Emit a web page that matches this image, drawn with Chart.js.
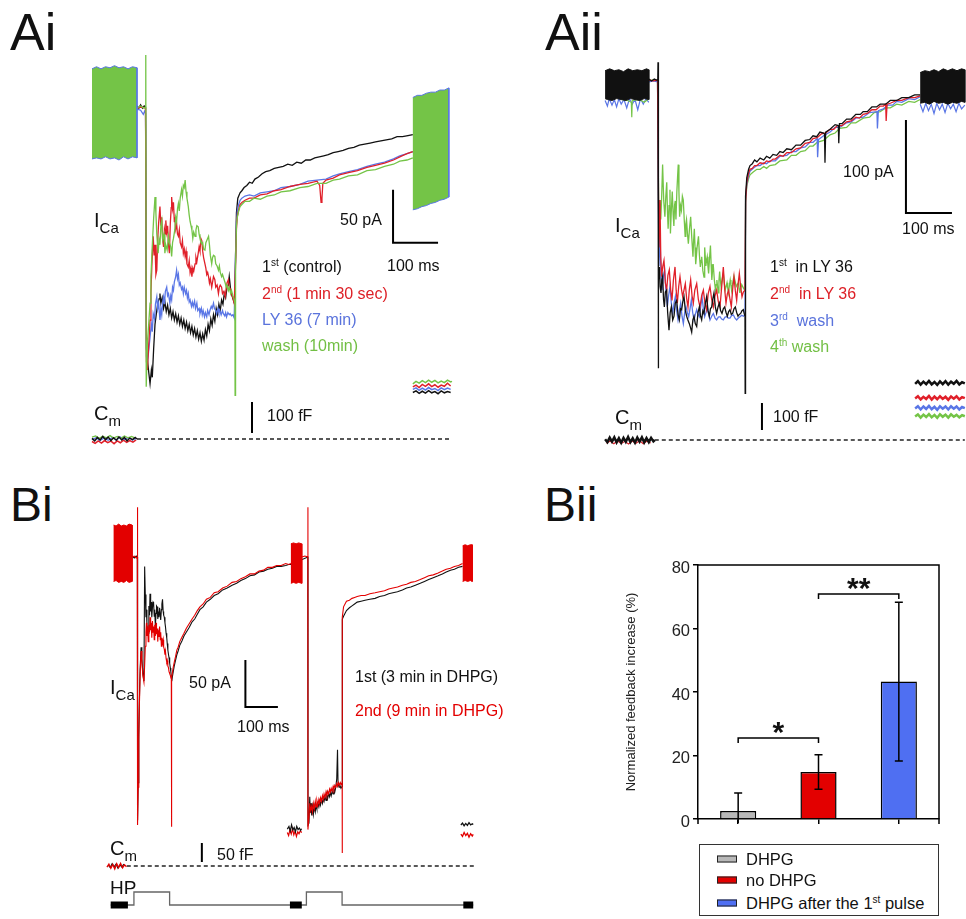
<!DOCTYPE html>
<html><head><meta charset="utf-8">
<script src="https://cdn.jsdelivr.net/npm/chart.js@4.4.1/dist/chart.umd.min.js"></script>
<style>
html,body{margin:0;padding:0;background:#fff;}
body{width:966px;height:919px;position:relative;overflow:hidden;font-family:"Liberation Sans",Arial,sans-serif;color:#111;}
canvas{position:absolute;}
.lbl{position:absolute;white-space:nowrap;line-height:1;transform:translateY(-50%);font-size:16px;}
.big{position:absolute;line-height:1;white-space:nowrap;}
.lbl sup{font-size:10px;vertical-align:6px;}
.sym{font-size:20px;}
.sym sub{font-size:15px;vertical-align:-6px;}
.leg{position:absolute;left:699px;top:844px;width:238px;height:70px;border:1.5px solid #333;}
.legrow{position:absolute;left:46px;font-size:16.5px;line-height:1;transform:translateY(-50%);white-space:nowrap;}
.legrow sup{font-size:10px;vertical-align:6px;}
.sw{position:absolute;left:17px;width:18px;height:5px;border:1px solid #222;transform:translateY(-50%);}
</style></head>
<body>
<script>
// ================= DATA =================
// Time in ms (0 = onset of the depolarising pulse), current in pA (0 = holding level), Cm in fF.

// ---- Ai : ICa sweeps ----
const aiControl = [[-20,1],[-16,-1],[-12,2],[-8,-1],[-4,1],[-1,0],[1,-228],[3,-238],[6,-250],[9,-261],[12,-248],[14,-255],[17,-228],[20,-205],[23,-195],[26,-186],[29,-181],[31,-176],[33,-185],[36,-180],[39,-190],[42,-184],[45,-193],[48,-187],[51,-196],[54,-190],[57,-199],[60,-193],[63,-201],[66,-195],[69,-203],[72,-197],[75,-205],[78,-199],[81,-207],[84,-201],[87,-209],[90,-203],[93,-211],[96,-205],[99,-213],[102,-207],[105,-215],[108,-209],[111,-217],[114,-211],[117,-219],[120,-213],[123,-221],[126,-214],[129,-220],[132,-210],[135,-216],[138,-205],[141,-211],[144,-200],[147,-206],[150,-196],[153,-202],[156,-190],[159,-196],[162,-186],[165,-192],[168,-182],[171,-186],[174,-176],[177,-180],[180,-170],[183,-168],[185,-160],[188,-172],[191,-178],[194,-182],[197,-186],[199,-140],[201,-100],[204,-86],[209,-81],[213,-79],[218,-76],[224,-74],[230,-71],[236,-72],[242,-68],[250,-66],[258,-63],[266,-61],[275,-60],[285,-58],[295,-57],[305,-56],[315,-54],[325,-55],[335,-52],[345,-53],[355,-50],[365,-50],[375,-48],[385,-47],[395,-46],[405,-45],[416,-43],[427,-42],[438,-41],[450,-39],[462,-38],[474,-36],[486,-35],[498,-34],[510,-33],[522,-32],[534,-31],[546,-30],[558,-28],[570,-28],[582,-27],[593,-26]];
const aiSecond = [[-20,-1],[-10,0],[-1,-1],[1,-240],[3,-248],[6,-225],[9,-201],[11,-175],[13,-150],[16,-122],[18,-140],[20,-130],[22,-158],[24,-154],[26,-125],[28,-110],[31,-94],[33,-112],[35,-104],[37,-125],[39,-132],[41,-115],[43,-120],[44,-107],[46,-118],[48,-112],[50,-130],[52,-138],[54,-110],[56,-95],[57,-85],[59,-96],[61,-90],[63,-108],[64,-104],[66,-115],[68,-110],[70,-120],[72,-122],[74,-116],[76,-128],[79,-132],[81,-126],[83,-138],[85,-134],[87,-141],[89,-136],[91,-148],[94,-151],[96,-145],[98,-156],[100,-152],[102,-160],[104,-152],[106,-155],[109,-148],[111,-142],[113,-146],[116,-138],[118,-132],[120,-136],[122,-124],[124,-126],[126,-136],[128,-142],[131,-148],[133,-152],[135,-158],[137,-156],[139,-160],[141,-166],[143,-162],[146,-170],[148,-165],[150,-160],[153,-163],[155,-170],[158,-168],[161,-176],[163,-170],[165,-168],[168,-170],[170,-176],[173,-174],[176,-179],[178,-172],[180,-166],[183,-163],[185,-170],[188,-172],[190,-176],[193,-180],[196,-185],[199,-150],[201,-115],[203,-103],[206,-97],[209,-92],[213,-90],[220,-88],[230,-86],[240,-86],[254,-83],[269,-82],[285,-79],[300,-78],[320,-75],[342,-73],[360,-72],[380,-70],[386,-74],[389,-90],[391,-86],[393,-72],[400,-69],[416,-67],[430,-64],[450,-62],[470,-60],[491,-57],[510,-55],[530,-53],[550,-50],[564,-47],[580,-44],[593,-42]];
const aiLY36 = [[-20,-2],[-12,-3],[-6,-7],[-3,-4],[-1,-6],[1,-235],[3,-242],[6,-230],[9,-217],[12,-205],[14,-212],[16,-195],[19,-200],[21,-186],[24,-179],[26,-190],[28,-185],[31,-201],[33,-190],[35,-196],[37,-184],[39,-179],[41,-186],[43,-174],[46,-170],[48,-178],[50,-176],[53,-185],[55,-178],[57,-182],[59,-170],[61,-173],[63,-165],[66,-160],[68,-154],[70,-162],[72,-158],[74,-168],[76,-166],[79,-172],[81,-170],[83,-176],[85,-170],[88,-176],[90,-173],[92,-180],[94,-176],[96,-184],[98,-182],[101,-188],[103,-184],[105,-188],[108,-183],[110,-190],[113,-185],[115,-192],[118,-190],[120,-195],[123,-190],[125,-196],[127,-192],[130,-198],[132,-194],[135,-198],[137,-192],[140,-196],[142,-192],[145,-188],[147,-190],[150,-185],[152,-190],[155,-192],[157,-195],[160,-190],[162,-194],[164,-192],[167,-196],[170,-192],[172,-195],[175,-197],[177,-194],[179,-198],[182,-194],[185,-196],[187,-195],[190,-197],[193,-196],[196,-199],[199,-140],[201,-108],[203,-98],[206,-92],[209,-88],[213,-86],[220,-84],[230,-83],[240,-84],[254,-81],[269,-80],[285,-79],[300,-76],[320,-75],[342,-73],[360,-70],[380,-69],[400,-68],[416,-65],[430,-63],[450,-61],[470,-59],[491,-56],[510,-54],[530,-52],[550,-49],[564,-46],[580,-44],[593,-42]];
const aiWash = [[-20,-1],[-12,1],[-5,-1],[-1,0],[-0.5,49],[0.5,-264],[3,-223],[6,-205],[9,-185],[11,-160],[13,-140],[15,-122],[17,-105],[20,-85],[22,-100],[24,-120],[27,-138],[29,-125],[31,-130],[33,-112],[35,-107],[37,-125],[40,-120],[42,-138],[44,-130],[47,-135],[50,-122],[52,-128],[55,-132],[57,-141],[59,-128],[61,-124],[64,-116],[66,-104],[68,-108],[70,-96],[72,-91],[74,-98],[76,-86],[79,-78],[81,-84],[83,-74],[85,-76],[87,-69],[89,-80],[91,-86],[94,-94],[96,-102],[98,-108],[100,-112],[102,-116],[104,-124],[106,-118],[109,-122],[111,-116],[113,-112],[116,-113],[118,-120],[120,-124],[122,-126],[124,-129],[126,-128],[128,-134],[131,-135],[133,-128],[136,-125],[139,-122],[141,-130],[143,-140],[146,-148],[148,-142],[150,-140],[153,-141],[155,-148],[158,-150],[161,-154],[163,-150],[165,-156],[168,-160],[170,-158],[173,-162],[176,-166],[178,-170],[180,-168],[183,-173],[185,-170],[188,-176],[190,-173],[193,-178],[196,-182],[197.5,-185],[198,-272],[199,-150],[201,-112],[203,-104],[206,-98],[209,-94],[213,-92],[220,-89],[230,-89],[240,-86],[254,-87],[269,-84],[285,-83],[300,-80],[320,-79],[342,-76],[360,-75],[380,-72],[400,-72],[416,-69],[430,-68],[450,-65],[470,-64],[491,-60],[510,-59],[530,-56],[550,-54],[564,-51],[580,-50],[593,-48]];
// stimulation (sine) epochs, envelope of the current
const aiStimPre = [[-120,36],[-110,38],[-100,36],[-90,38],[-80,37],[-70,39],[-60,37],[-50,38],[-40,36],[-30,38],[-20,37],[-20,-48],[-30,-47],[-40,-49],[-50,-47],[-60,-50],[-70,-48],[-80,-49],[-90,-47],[-100,-49],[-110,-48],[-120,-49]];
const aiStimPost = [[593,9],[603,11],[613,11],[623,13],[633,14],[643,14],[653,16],[663,16],[673,18],[673,-85],[663,-87],[653,-88],[643,-90],[633,-91],[623,-93],[613,-94],[603,-96],[593,-97]];
// Cm (fF)
const aiCmPreBlack = [[-120,2],[-114,-6],[-108,5],[-102,-3],[-96,8],[-90,-2],[-84,6],[-78,-5],[-72,4],[-66,-4],[-60,7],[-54,-3],[-48,5],[-42,-6],[-36,3],[-30,-2],[-24,5],[-20,0]];
const aiCmPreRed = [[-120,-8],[-113,-14],[-106,-6],[-99,-13],[-92,-5],[-85,-12],[-78,-7],[-71,-15],[-64,-6],[-57,-12],[-50,-4],[-43,-11],[-36,-5],[-29,-10],[-22,-3]];
const aiCmPreGreen = [[-120,6],[-112,10],[-104,2],[-96,9],[-88,4],[-80,11],[-72,3],[-64,8],[-56,2],[-48,10],[-40,4],[-32,8],[-24,3]];
const aiCmPreBlue = [[-120,-2],[-111,4],[-102,-5],[-93,3],[-84,-4],[-75,5],[-66,-3],[-57,6],[-48,-2],[-39,5],[-30,-3],[-22,2]];
const aiCmPostGreen = [[593,178],[600,186],[607,180],[614,188],[621,182],[628,190],[635,183],[642,189],[649,181],[656,187],[663,182],[670,190],[677,184],[680,186]];
const aiCmPostRed = [[593,168],[600,174],[607,166],[614,176],[621,170],[628,178],[635,169],[642,175],[649,167],[656,174],[663,170],[670,180],[677,171]];
const aiCmPostBlue = [[593,160],[600,165],[607,157],[614,164],[621,158],[628,166],[635,159],[642,163],[649,156],[656,165],[663,159],[670,164],[677,160]];
const aiCmPostBlack = [[593,150],[600,155],[607,147],[614,154],[621,148],[628,156],[635,149],[642,153],[649,146],[656,155],[663,149],[670,153],[677,150]];

// ---- Aii : ICa sweeps in LY 36 and wash ----
const aiiFirst = [[-20,1],[-14,-1],[-8,1],[-3,0],[-0.5,0],[0,19],[0.4,-310],[1.5,-215],[2.9,-201],[4.6,-222],[6.5,-229],[8.3,-215],[10.1,-211],[12,-236],[13.8,-244],[16,-228],[18.8,-226],[21,-250],[23.9,-269],[26.5,-250],[29,-244],[32,-258],[34.8,-254],[37.5,-240],[40.6,-237],[43.5,-252],[46.4,-258],[49,-246],[51.4,-247],[54,-238],[56.5,-233],[59.5,-248],[62.3,-254],[65,-258],[68.1,-262],[70.5,-266],[73.2,-271],[75.8,-258],[78.3,-254],[81,-262],[84.1,-265],[87,-250],[89.9,-244],[92.5,-254],[94.9,-258],[97.5,-248],[100,-251],[103,-240],[105.8,-233],[108.7,-248],[111.6,-254],[114,-246],[116.7,-244],[119,-236],[121.7,-229],[124.6,-244],[127.5,-251],[130.5,-244],[133.3,-240],[136,-248],[139.1,-251],[142,-246],[144.9,-244],[148,-250],[150.7,-254],[153.6,-249],[156.5,-247],[159.4,-252],[162.3,-251],[165.2,-246],[168.1,-244],[171,-250],[173.9,-254],[176.8,-252],[179.7,-251],[182.6,-248],[185.5,-247],[187.3,-251],[189.1,-254],[189.5,-337],[190.3,-125],[193,-105],[197,-96],[200,-92],[205,-90],[210,-86],[215,-88],[222,-84],[230,-86],[236,-82],[243,-84],[250,-80],[258,-81],[265,-77],[272,-78],[280,-74],[290,-75],[300,-70],[310,-70],[320,-65],[330,-64],[337,-60],[345,-61],[352,-56],[360,-57],[362,-58],[363,-89],[364.5,-56],[374,-53],[385,-48],[392,-49],[393,-68],[394.5,-47],[400,-47],[410,-42],[420,-42],[430,-37],[440,-37],[446,-34],[455,-34],[465,-29],[475,-29],[483,-26],[495,-26],[505,-22],[519,-22],[530,-19],[545,-19],[558,-16],[570,-16]];
const aiiSecond = [[-20,0],[-10,-1],[-1,0],[2,-180],[4.3,-129],[6,-190],[8,-211.5],[10.5,-200],[13,-194],[16,-218],[18.8,-226],[21.5,-210],[24.6,-204],[27.5,-225],[30.4,-237],[33.5,-215],[37,-201],[39.5,-226],[42,-240],[45,-222],[47.8,-211.5],[51,-225],[53.6,-233],[56.5,-226],[59.4,-219],[62.3,-235],[65.2,-244],[68,-226],[71,-215],[74,-232],[76.8,-240],[80,-226],[84.1,-219],[87.7,-236],[91.3,-244],[95,-232],[98.6,-226],[102,-240],[105.8,-247],[109,-230],[113,-222],[116.7,-236],[120.3,-244],[124,-232],[127.5,-226],[131,-238],[134.8,-244],[138.5,-222],[142,-201],[145,-225],[147.8,-240],[150.7,-230],[153.6,-226],[156.5,-236],[159.4,-244],[162.3,-225],[165.2,-211.5],[168,-226],[171,-237],[174,-220],[176.8,-208],[179.7,-222],[182.6,-233],[185.5,-228],[189.1,-226],[190.5,-130],[193,-110],[197,-100],[200,-96],[205,-95],[210,-92],[215,-92],[222,-89],[230,-90],[236,-87],[243,-88],[250,-85],[255,-85],[265,-81],[272,-82],[280,-78],[290,-78],[300,-74],[310,-73],[320,-68],[330,-67],[337,-63],[346,-62],[355,-58],[365,-57],[374,-53],[382,-53],[390,-49],[400,-49],[410,-45],[420,-44],[430,-40],[438,-41],[446,-37],[455,-36],[465,-32],[474,-32],[483,-28],[490,-28],[495,-26],[496,-44],[498,-26],[505,-25],[519,-22],[530,-22],[545,-19],[558,-19],[570,-17]];
const aiiWash3 = [[-20,-2],[-10,-1],[-1,-2],[2,-200],[4.3,-165],[6.5,-210],[8.7,-226],[11.5,-212],[14.5,-204],[17.4,-228],[20.3,-244],[23,-232],[26.1,-222],[29,-240],[31.9,-251],[35,-240],[37.7,-233],[40.6,-248],[43.5,-258],[46.4,-248],[49.3,-240],[52.2,-254],[55.1,-262],[58,-250],[60.9,-244],[63.8,-250],[66.7,-254.5],[69.6,-246],[72.5,-236.6],[75.4,-250],[78.3,-258],[81.2,-252],[84.1,-247],[87,-252],[89.9,-254.5],[92.8,-244],[95.7,-233],[98.6,-246],[101.4,-254.5],[104.3,-250],[107.2,-244],[110.1,-252],[113,-258],[116.7,-254],[120.3,-251],[124,-256],[127.5,-258],[131.2,-255],[134.8,-254.5],[138.4,-257],[142,-258],[145.7,-255],[149.3,-254.5],[153,-256],[156.5,-256],[160.2,-253],[163.8,-252.7],[167.4,-256],[171,-258],[174.7,-256],[178.3,-254.5],[182,-253],[185.6,-254],[189.1,-252.7],[190.5,-128],[193,-112],[197,-103],[200,-98],[207,-95],[215,-92],[222,-92],[230,-89],[236,-90],[243,-87],[255,-87],[265,-82],[280,-81],[290,-77],[300,-77],[310,-73],[320,-72],[330,-67],[337,-67],[346,-63],[347,-83],[349,-64],[360,-60],[374,-56],[385,-51],[395,-51],[410,-46],[420,-45],[430,-41],[446,-40],[460,-35],[476,-34],[477,-52],[479,-33],[490,-31],[500,-27],[510,-27],[519,-23],[530,-24],[545,-20],[558,-21],[570,-18]];
const aiiWash4 = [[-20,-1],[-10,0],[-1,-1],[2,-170],[4,-129],[6,-150],[8,-125],[10,-91],[12.5,-130],[15,-147],[17,-125],[19,-110],[20.5,-140],[22,-160],[24,-135],[26,-118],[27,-165],[29,-140],[31,-120],[33,-145],[34.5,-157],[36,-135],[37.5,-130],[39,-150],[41,-120],[42.5,-105],[44,-91],[45.5,-120],[47,-147],[49,-135],[51,-140],[53,-125],[55,-129],[57,-150],[59,-168],[60.5,-155],[62,-150],[64,-165],[66,-176],[68.5,-160],[71,-147],[73.5,-170],[76,-190],[77.5,-172],[79,-160],[80.5,-180],[82,-198],[85,-180],[88,-168],[90,-188],[92,-201],[93.5,-194],[95,-190],[97.5,-205],[100,-212],[101,-195],[102,-180],[103,-192],[104,-200],[105.5,-194],[107,-190],[108.5,-200],[110,-208],[112,-192],[114,-178],[115.5,-198],[117,-215],[118.5,-205],[120,-198],[122.5,-215],[125,-226],[126.5,-220],[128,-215],[129.5,-222],[131,-229],[132.5,-216],[134,-206],[135.5,-215],[137,-222],[139.5,-214],[142,-208],[144,-218],[146,-226],[148,-222],[150,-218],[151.5,-224],[153,-229],[155,-222],[157,-215],[158.5,-220],[160,-226],[162.5,-218],[165,-211],[167.5,-216],[170,-222],[172.5,-220],[175,-218],[176.5,-224],[178,-229],[180,-224],[182,-220],[184,-222],[186,-224],[187.5,-225],[189,-226],[190.5,-132],[193,-114],[197,-106],[200,-102],[207,-99],[215,-96],[222,-96],[230,-93],[236,-95],[243,-92],[255,-91],[265,-87],[280,-86],[290,-81],[300,-81],[310,-77],[320,-76],[330,-71],[337,-71],[346,-67],[360,-65],[374,-59],[385,-57],[395,-52],[410,-51],[420,-46],[430,-46],[446,-41],[460,-40],[470,-35],[483,-34],[495,-30],[505,-30],[519,-26],[530,-27],[545,-23],[558,-24],[570,-21]];
const aiiStimPre = [[-115,10],[-105,12],[-95,10],[-85,11],[-75,9],[-65,12],[-55,10],[-45,11],[-35,10],[-25,12],[-20,11],[-20,-21],[-30,-20],[-40,-22],[-50,-21],[-60,-20],[-70,-22],[-80,-21],[-90,-20],[-100,-22],[-110,-21],[-115,-20]];
const aiiStimPreColour = [[-115,-22],[-110,-28],[-106,-20],[-100,-27],[-95,-21],[-90,-29],[-85,-20],[-80,-26],[-74,-21],[-68,-30],[-62,-20],[-56,-26],[-50,-21],[-44,-32],[-38,-20],[-32,-26],[-26,-20],[-20,-24]];
const aiiStimPreGreen = [[-80,-21],[-66,-22],[-58,-24],[-57,-40],[-56,-22],[-40,-21],[-30,-24],[-22,-21]];
const aiiStimPost = [[570,8],[580,10],[590,9],[600,11],[610,9],[620,12],[630,10],[640,12],[650,10],[660,12],[667,11],[667,-24],[660,-23],[650,-25],[640,-24],[630,-26],[620,-24],[610,-25],[600,-23],[590,-26],[580,-24],[570,-25]];
const aiiStimPostColour = [[570,-26],[576,-34],[582,-25],[588,-33],[594,-26],[600,-36],[606,-25],[612,-32],[618,-26],[624,-35],[630,-25],[636,-31],[642,-26],[648,-34],[654,-25],[660,-31],[667,-27]];
const aiiCmPreBlack = [[-115,3],[-110,-8],[-105,9],[-100,-6],[-95,10],[-90,-9],[-85,7],[-80,-10],[-75,8],[-70,-7],[-65,11],[-60,-8],[-55,6],[-50,-10],[-45,9],[-40,-6],[-35,10],[-30,-9],[-25,7],[-20,-8],[-15,8],[-10,-5],[-7,0]];
const aiiCmPreColour = [[-112,-12],[-104,-4],[-96,-14],[-88,-3],[-80,-13],[-72,-5],[-64,-15],[-56,-4],[-48,-12],[-40,-3],[-32,-14],[-24,-4],[-16,-11]];
const aiiCmPostBlack = [[559,208],[565,218],[571,205],[577,216],[583,207],[589,219],[595,206],[601,215],[607,204],[613,217],[619,207],[625,218],[631,205],[637,216],[643,208],[649,219],[655,206],[661,214],[667,210]];
const aiiCmPostRed = [[559,154],[565,162],[571,150],[577,160],[583,152],[589,163],[595,150],[601,161],[607,151],[613,162],[619,152],[625,160],[631,149],[637,161],[643,153],[649,162],[655,150],[661,159],[667,155]];
const aiiCmPostBlue = [[559,117],[565,125],[571,113],[577,124],[583,115],[589,126],[595,114],[601,123],[607,112],[613,125],[619,116],[625,124],[631,113],[637,125],[643,116],[649,124],[655,113],[661,122],[667,118]];
const aiiCmPostGreen = [[559,87],[565,95],[571,83],[577,94],[583,85],[589,96],[595,84],[601,93],[607,82],[613,95],[619,86],[625,94],[631,83],[637,95],[643,86],[649,93],[655,84],[661,92],[667,88]];

// ---- Bi : two pulses, 1st (3 min in DHPG) and 2nd (9 min in DHPG) ----
const biFirst = [[-16.6,1],[-10,-1],[-4,1],[-0.5,0],[0.3,-280],[2,-240],[4,-190],[6,-150],[8,-120],[11,-96],[13.5,-108],[16.5,-124],[19.8,-132],[22,-10],[24,-40],[26,-64],[27.5,-56],[29,-72],[31,-80],[33,-81],[35,-52],[37,-62],[38.5,-39],[40.5,-58],[42,-48],[44,-64],[46,-54],[48,-48],[49.5,-49],[51.5,-63],[53,-56],[55,-74],[57,-60],[58.5,-52],[60.4,-53],[62.5,-66],[64,-58],[66,-64],[68,-54],[70,-62],[71.4,-67],[73.5,-56],[75,-50],[77,-45],[79,-58],[80.5,-62],[82.4,-64],[84.5,-70],[86,-74],[88,-81],[90,-86],[91.5,-92],[93.4,-99],[95.5,-104],[97,-107],[99,-113],[101,-118],[102.5,-122],[104,-127],[105.5,-132],[107,-128],[110,-122],[113,-116],[117,-110],[121,-104],[125,-100],[130,-94],[137,-89],[143,-84],[150,-80],[159,-75],[168,-69],[176,-66],[184,-61],[192,-56],[202,-53],[212,-48],[224,-45],[236,-41],[248,-39],[262,-35],[276,-33],[291,-30],[305,-28],[318,-25],[332,-23],[346,-20],[360,-19],[374,-16],[388,-15],[401,-13],[415,-12],[428,-10],[442,-10],[456,-9],[465,-8],[472,-8],[524,0],[524.6,-285],[527.5,-283],[530,-255],[532,-272],[534,-262],[536,-275],[538.5,-266],[541,-274],[544,-265],[547,-271],[549.5,-264],[552,-268],[555,-262],[558,-266],[560.4,-260],[563,-264],[566,-258],[569,-262],[571.4,-257],[574,-260],[577,-255],[580,-259],[582.4,-253],[585,-257],[588,-252],[591,-255],[593.4,-250],[596,-254],[599,-249],[602,-252],[604.4,-247],[607,-250],[610,-245],[613,-236],[615.4,-205],[617,-240],[620,-245],[623,-243],[626,-246],[629.7,-244],[630.3,-66],[634,-63],[643,-57],[652,-54],[660,-52],[668,-50],[676,-48],[688,-47],[700,-46],[715,-45],[731,-44],[745,-42],[760,-41],[773,-39],[786,-38],[800,-37],[815,-35],[828,-33],[841,-32],[855,-30],[870,-28],[883,-26],[896,-24],[910,-22],[925,-20],[938,-18],[950,-16],[963,-14],[975,-13],[988,-11],[1000,-10]];
const biSecond = [[-16.6,0],[-10,1],[-4,-1],[-0.5,0],[0,53],[0.3,-285],[2,-245],[4,-195],[6,-155],[8,-125],[11,-100],[13.5,-112],[16.5,-126],[19.8,-133],[22,-115],[24,-95],[26,-80],[27.5,-70],[29,-84],[31,-74],[33,-90],[35,-72],[37,-80],[38.5,-64],[40.5,-78],[42,-70],[44,-86],[46,-68],[48,-80],[49.5,-74],[51.5,-88],[53,-72],[55,-84],[57,-70],[58.5,-82],[60.4,-76],[62.5,-90],[64,-78],[66,-85],[68,-74],[70,-88],[71.4,-80],[73.5,-95],[75,-86],[77,-92],[79,-88],[80.5,-96],[82.4,-98],[84.5,-104],[86,-100],[88,-108],[90,-112],[91.5,-110],[93.4,-116],[95.5,-118],[97,-122],[99,-124],[101,-126],[102.5,-128],[104,-128],[104.4,-287],[105.5,-128],[107,-124],[110,-117],[113,-112],[117,-106],[121,-99],[125,-96],[130,-90],[137,-85],[143,-81],[150,-76],[159,-71],[168,-66],[176,-62],[184,-57],[192,-53],[202,-50],[212,-45],[224,-43],[236,-38],[248,-37],[262,-33],[276,-31],[291,-27],[305,-26],[318,-23],[332,-21],[346,-18],[360,-18],[374,-15],[388,-14],[401,-11],[415,-11],[428,-9],[442,-9],[456,-7],[465,-8],[472,-7],[505.5,0],[515,1],[524,0],[524.2,53],[524.6,-290],[527.5,-278],[530,-262],[533,-270],[536,-265],[538.5,-271],[541,-262],[544,-268],[547,-260],[549.5,-266],[552,-259],[555,-264],[558,-258],[560.4,-262],[563,-256],[566,-260],[569,-254],[571.4,-258],[574,-252],[577,-256],[580,-250],[582.4,-254],[585,-249],[588,-252],[591,-247],[593.4,-250],[596,-246],[599,-249],[602,-244],[604.4,-247],[607,-243],[610,-245],[613,-241],[615.4,-244],[618,-240],[621,-243],[624,-240],[626.4,-242],[629.7,-240],[629.9,-315],[630.3,-64],[634,-53],[643,-47],[652,-46],[660,-44],[668,-43],[676,-42],[688,-41],[700,-41],[715,-39],[731,-38],[745,-37],[760,-36],[773,-34],[786,-33],[800,-32],[815,-30],[828,-29],[841,-27],[855,-26],[870,-24],[883,-22],[896,-20],[910,-19],[925,-17],[938,-15],[950,-13],[963,-12],[975,-10],[988,-9],[1000,-7]];
const biStim1 = [[-73.5,34],[-66,33],[-58,35],[-50,33],[-42,34],[-34,33],[-26,35],[-16.6,34],[-16.6,-26],[-26,-27],[-34,-25],[-42,-27],[-50,-26],[-58,-27],[-66,-25],[-73.5,-26]];
const biStim2 = [[472,14],[480,15],[488,14],[496,15],[505.5,14],[505.5,-28],[496,-27],[488,-28],[480,-27],[472,-28]];
const biStim3 = [[1000.6,12],[1008,13],[1016,12],[1024,13],[1030,13],[1030,-26],[1024,-25],[1016,-26],[1008,-25],[1000.6,-26]];
const biCmPreRed = [[-94,-3],[-88,5],[-82,-6],[-76,4],[-70,-8],[-64,6],[-58,-4],[-52,7],[-46,-5],[-40,3],[-34,-2]];
const biCmPreBlack = [[-90,2],[-84,-4],[-78,6],[-72,-2],[-66,5],[-60,-6],[-54,3],[-48,-3],[-42,5]];
const biCmMidBlack = [[461,97],[466,104],[470,92],[474,108],[478,95],[482,101],[486,90],[490,104],[494,96],[498,100],[502,94],[505,98]];
const biCmMidRed = [[461,88],[465,80],[469,95],[473,84],[477,98],[481,82],[485,92],[489,78],[493,90],[497,85],[501,93],[505,88]];
const biCmPostBlack = [[995,108],[1000,113],[1005,106],[1010,112],[1015,107],[1020,114],[1025,108],[1030,111],[1033,109]];
const biCmPostRed = [[995,84],[1000,78],[1005,88],[1010,80],[1015,86],[1020,76],[1025,85],[1030,79],[1033,83]];
// holding-potential command (0 = holding level, 1 = depolarising step)
const biCommand = [[-82.5,0],[-11,0],[-11,1],[98.8,1],[98.8,0],[519.7,0],[519.7,1],[629.5,1],[629.5,0],[1033,0]];
const biSineEpochs = [[-82.5,-29.5],[469,505.5],[1002.5,1033]];

// ---- Bii : normalized feedback increase (%) ----
const biiCategories = ['DHPG', 'no DHPG', 'DHPG after the 1st pulse'];
const biiMeans = [2.5, 14.8, 43.3];
const biiErrors = [5.7, 5.4, 25.0];
const biiColors = ['#b8b8b8', '#e30000', '#4f6ff2'];
const biiSignificance = [{from: 0, to: 1, y: 25.5, label: '*'}, {from: 1, to: 2, y: 70.9, label: '**'}];

// ================= RENDERING =================
Chart.defaults.font.family = '"Liberation Sans", Arial, sans-serif';
Chart.defaults.animation = false;

const C = {black:'#111111', red:'#e0202a', blue:'#5a76e6', green:'#74c447', bred:'#e30000'};

function makeCanvas(id, left, top, w, h) {
  const c = document.createElement('canvas');
  c.id = id; c.width = w; c.height = h;
  c.style.left = left + 'px'; c.style.top = top + 'px';
  c.style.width = w + 'px'; c.style.height = h + 'px';
  document.body.appendChild(c);
  return c;
}
function line(points, color, axis, width, extra) {
  return Object.assign({
    data: points.map(p => ({x: p[0], y: p[1]})),
    borderColor: color, backgroundColor: color, borderWidth: width || 1.3,
    pointRadius: 0, showLine: true, tension: 0, fill: false, yAxisID: axis || 'y'
  }, extra || {});
}
function block(points, fillColor, edgeColor, axis) {
  return line(points, edgeColor, axis, 1, {fill: 'shape', backgroundColor: fillColor});
}
// axis ranges from page-pixel layout (origin pixel, pixels per unit)
function xRange(originPx, k, leftPx, w) { return {min: (leftPx - originPx) / k, max: (leftPx + w - originPx) / k}; }
function yRange(originPx, k, topPx, h) { return {min: (originPx - topPx - h) / k, max: (originPx - topPx) / k}; }

const scaleBars = {
  id: 'scaleBars',
  afterDatasetsDraw(chart, args, opts) {
    const ctx = chart.ctx, xs = chart.scales.x;
    (opts.bars || []).forEach(b => {
      const ys = chart.scales[b.axis];
      const x0 = xs.getPixelForValue(b.t), y0 = ys.getPixelForValue(b.v);
      ctx.save(); ctx.strokeStyle = '#000'; ctx.lineWidth = 2;
      ctx.beginPath();
      ctx.moveTo(x0, ys.getPixelForValue(b.v + b.dv));
      ctx.lineTo(x0, y0);
      if (b.dt) ctx.lineTo(xs.getPixelForValue(b.t + b.dt), y0);
      ctx.stroke(); ctx.restore();
    });
  }
};

function traceChart(id, box, map, datasets, bars) {
  const cv = makeCanvas(id, box.left, box.top, box.w, box.h);
  const scales = {
    x: Object.assign({type: 'linear', display: false}, xRange(map.x0, map.kx, box.left, box.w)),
    y: Object.assign({type: 'linear', display: false}, yRange(map.y0, map.ky, box.top, box.h)),
    cm: Object.assign({type: 'linear', display: false}, yRange(map.cm0, map.kcm, box.top, box.h))
  };
  if (map.hp0) scales.hp = Object.assign({type: 'linear', display: false}, yRange(map.hp0, map.khp, box.top, box.h));
  return new Chart(cv, {
    type: 'scatter',
    data: {datasets: datasets},
    options: {
      responsive: false, animation: false, events: [],
      layout: {padding: 0},
      plugins: {legend: {display: false}, tooltip: {enabled: false}, scaleBars: {bars: bars}},
      scales: scales
    },
    plugins: [scaleBars]
  });
}

// ---- Ai ----
traceChart('ai', {left: 78, top: 40, w: 392, h: 412}, {x0: 146, kx: 0.45, y0: 107, ky: 1.06, cm0: 439, kcm: 0.31}, [
  block(aiStimPre, C.green, C.blue),
  block(aiStimPost, C.green, C.blue),
  line(aiWash, C.green),
  line(aiSecond, C.red),
  line(aiLY36, C.blue),
  line(aiControl, C.black),
  line(aiCmPostGreen, C.green, 'cm', 1.5),
  line(aiCmPostRed, C.red, 'cm', 1.5),
  line(aiCmPostBlue, C.blue, 'cm', 1.5),
  line(aiCmPostBlack, C.black, 'cm', 1.5),
  line(aiCmPreBlack, C.black, 'cm', 1.5),
  line(aiCmPreGreen, C.green, 'cm', 1.3),
  line(aiCmPreBlue, C.blue, 'cm', 1.3),
  line(aiCmPreRed, C.red, 'cm', 1.5),
  line([[-20, 0], [680, 0]], '#222', 'cm', 1.3, {borderDash: [4, 3]})
], [{axis: 'y', t: 549, v: -128, dt: 100, dv: 50}, {axis: 'cm', t: 235.6, v: 19.4, dv: 100}]);

// ---- Aii ----
traceChart('aii', {left: 595, top: 40, w: 371, h: 412}, {x0: 658, kx: 0.46, y0: 80, ky: 0.93, cm0: 440, kcm: 0.27}, [
  block(aiiStimPre, C.black, C.black),
  block(aiiStimPost, C.black, C.black),
  line(aiiFirst, C.black),
  line(aiiSecond, C.red),
  line(aiiWash3, C.blue),
  line(aiiWash4, C.green),
  line(aiiStimPreGreen, C.green, 'y', 1.2),
  line(aiiStimPreColour, C.blue, 'y', 1.2),
  line(aiiStimPostColour, C.blue, 'y', 1.2),
  line(aiiCmPreBlack, C.black, 'cm', 2.5),
  line(aiiCmPreColour, C.red, 'cm', 1.2),
  line(aiiCmPostBlack, C.black, 'cm', 2.5),
  line(aiiCmPostRed, C.red, 'cm', 2.5),
  line(aiiCmPostBlue, C.blue, 'cm', 2.5),
  line(aiiCmPostGreen, C.green, 'cm', 2.5),
  line([[-7, 0], [667, 0]], '#222', 'cm', 1.3, {borderDash: [4, 3]})
], [{axis: 'y', t: 539, v: -143, dt: 100, dv: 100}, {axis: 'cm', t: 226, v: 37, dv: 100}]);

// ---- Bi ----
const biDatasets = [
  block(biStim1, C.bred, C.bred),
  block(biStim2, C.bred, C.bred),
  block(biStim3, C.bred, C.bred),
  line(biSecond, C.bred, 'y', 1.1),
  line(biFirst, C.black, 'y', 1.1),
  line(biCmPreRed, C.bred, 'cm', 1.3),
  line(biCmPreBlack, C.black, 'cm', 1.1),
  line(biCmMidBlack, C.black, 'cm', 1.2),
  line(biCmMidRed, C.bred, 'cm', 1.2),
  line(biCmPostBlack, C.black, 'cm', 1.3),
  line(biCmPostRed, C.bred, 'cm', 1.3),
  line([[-33, 0], [1036, 0]], '#222', 'cm', 1.3, {borderDash: [4, 3]})
];
biSineEpochs.forEach(e => biDatasets.unshift(line([[e[0], 0], [e[1], 0]], '#000', 'hp', 7, {borderCapStyle: 'butt'})));
biDatasets.push(line(biCommand, '#666', 'hp', 1.3));
traceChart('bi', {left: 95, top: 495, w: 390, h: 424}, {x0: 137.5, kx: 0.325, y0: 557, ky: 0.94, cm0: 866, kcm: 0.38, hp0: 905, khp: 13},
  biDatasets, [{axis: 'y', t: 332, v: -159.6, dt: 100, dv: 50}, {axis: 'cm', t: 198, v: 10.5, dv: 50}]);

// ---- Bii ----
const frame = {
  id: 'frame',
  afterDraw(chart) {
    const {ctx, chartArea: a} = chart;
    ctx.save(); ctx.strokeStyle = '#000'; ctx.lineWidth = 1.5;
    ctx.beginPath();
    ctx.moveTo(a.left, a.top); ctx.lineTo(a.right, a.top); ctx.lineTo(a.right, a.bottom + 5);
    ctx.moveTo(a.left, a.bottom); ctx.lineTo(a.left, a.bottom + 5);
    ctx.stroke(); ctx.restore();
  }
};
const errorBars = {
  id: 'errorBars',
  afterDatasetsDraw(chart) {
    const {ctx, chartArea: a} = chart, xs = chart.scales.x, ys = chart.scales.y;
    ctx.save(); ctx.strokeStyle = '#000'; ctx.lineWidth = 1.5;
    biiMeans.forEach((m, i) => {
      const x = xs.getPixelForValue(i);
      const yt = ys.getPixelForValue(m + biiErrors[i]);
      let yb = ys.getPixelForValue(m - biiErrors[i]);
      const capB = yb <= a.bottom;
      yb = Math.min(yb, a.bottom + 4);
      ctx.beginPath();
      ctx.moveTo(x, yt); ctx.lineTo(x, yb);
      ctx.moveTo(x - 4, yt); ctx.lineTo(x + 4, yt);
      if (capB) { ctx.moveTo(x - 4, yb); ctx.lineTo(x + 4, yb); }
      ctx.stroke();
    });
    ctx.restore();
  }
};
const significance = {
  id: 'significance',
  afterDatasetsDraw(chart) {
    const ctx = chart.ctx, xs = chart.scales.x, ys = chart.scales.y;
    ctx.save(); ctx.strokeStyle = '#000'; ctx.fillStyle = '#111'; ctx.lineWidth = 1.5;
    biiSignificance.forEach(s => {
      const x1 = xs.getPixelForValue(s.from), x2 = xs.getPixelForValue(s.to), y = ys.getPixelForValue(s.y);
      ctx.beginPath();
      ctx.moveTo(x1, y + 5); ctx.lineTo(x1, y); ctx.lineTo(x2, y); ctx.lineTo(x2, y + 5);
      ctx.stroke();
      ctx.font = 'bold 30px "Liberation Sans", Arial, sans-serif';
      ctx.textAlign = 'center'; ctx.textBaseline = 'alphabetic';
      const m = ctx.measureText(s.label);
      const cy = y - 10;
      ctx.fillText(s.label, (x1 + x2) / 2, cy + (m.actualBoundingBoxAscent - m.actualBoundingBoxDescent) / 2);
    });
    ctx.restore();
  }
};
const biiCanvas = makeCanvas('bii', 590, 545, 370, 295);
new Chart(biiCanvas, {
  type: 'bar',
  data: {labels: biiCategories, datasets: [{
    data: biiMeans, backgroundColor: biiColors, borderColor: '#000', borderWidth: 1.5,
    barPercentage: 0.45, categoryPercentage: 1
  }]},
  options: {
    responsive: false, animation: false, events: [],
    layout: {padding: {left: 32, top: 20, right: 21, bottom: 0}},
    plugins: {legend: {display: false}, tooltip: {enabled: false}},
    scales: {
      x: {
        offset: true,
        grid: {display: true, offset: false, drawOnChartArea: false, drawTicks: true, tickLength: 5, color: '#000', tickColor: '#000', lineWidth: 1.5},
        border: {display: true, color: '#000', width: 1.5},
        ticks: {callback: () => '', padding: 0},
        afterFit: s => { s.height = 21; }
      },
      y: {
        min: 0, max: 80,
        ticks: {stepSize: 20, color: '#222', font: {size: 16.5}, padding: 3, labelOffset: 3},
        grid: {display: true, drawOnChartArea: false, drawTicks: true, tickLength: 5, color: '#000', tickColor: '#000', lineWidth: 1.5},
        border: {display: true, color: '#000', width: 1.5},
        title: {display: true, text: 'Normalized feedback increase (%)', color: '#222', font: {size: 13}, padding: {top: 2, bottom: 0}},
        afterFit: s => { s.width = 76; }
      }
    }
  },
  plugins: [frame, errorBars, significance]
});
</script>

<!-- panel letters -->
<div class="big" style="left:10px;top:6px;font-size:52px;">Ai</div>
<div class="big" style="left:545px;top:6px;font-size:52px;">Aii</div>
<div class="big" style="left:10px;top:481px;font-size:48px;">Bi</div>
<div class="big" style="left:544px;top:481px;font-size:48px;">Bii</div>

<!-- Ai annotations -->
<div class="lbl sym" style="left:94px;top:222px;">I<sub>Ca</sub></div>
<div class="lbl sym" style="left:94px;top:415px;">C<sub>m</sub></div>
<div class="lbl" style="left:340px;top:220px;">50 pA</div>
<div class="lbl" style="left:387px;top:266px;">100 ms</div>
<div class="lbl" style="left:267px;top:416px;">100 fF</div>
<div class="lbl" style="left:262px;top:266px;color:#111;">1<sup>st</sup> (control)</div>
<div class="lbl" style="left:262px;top:293px;color:#dd1f26;">2<sup>nd</sup> (1 min 30 sec)</div>
<div class="lbl" style="left:262px;top:320px;color:#5a73dc;">LY 36 (7 min)</div>
<div class="lbl" style="left:262px;top:346px;color:#72bf44;">wash (10min)</div>

<!-- Aii annotations -->
<div class="lbl sym" style="left:615px;top:227px;">I<sub>Ca</sub></div>
<div class="lbl sym" style="left:615px;top:419px;">C<sub>m</sub></div>
<div class="lbl" style="left:843px;top:172px;">100 pA</div>
<div class="lbl" style="left:902px;top:229px;">100 ms</div>
<div class="lbl" style="left:773px;top:417px;">100 fF</div>
<div class="lbl" style="left:770px;top:266px;color:#111;">1<sup>st</sup>&nbsp; in LY 36</div>
<div class="lbl" style="left:770px;top:293px;color:#dd1f26;">2<sup>nd</sup>&nbsp; in LY 36</div>
<div class="lbl" style="left:770px;top:320px;color:#5a73dc;">3<sup>rd</sup>&nbsp; wash</div>
<div class="lbl" style="left:770px;top:346px;color:#72bf44;">4<sup>th</sup> wash</div>

<!-- Bi annotations -->
<div class="lbl sym" style="left:110px;top:689px;">I<sub>Ca</sub></div>
<div class="lbl sym" style="left:110px;top:850px;">C<sub>m</sub></div>
<div class="lbl" style="left:110px;top:887px;font-size:19px;">HP</div>
<div class="lbl" style="left:189px;top:683px;">50 pA</div>
<div class="lbl" style="left:237px;top:727px;">100 ms</div>
<div class="lbl" style="left:217px;top:855px;">50 fF</div>
<div class="lbl" style="left:355px;top:677px;color:#111;">1st (3 min in DHPG)</div>
<div class="lbl" style="left:355px;top:711px;color:#e30000;">2nd (9 min in DHPG)</div>

<!-- Bii legend -->
<div class="leg">
  <div class="sw" style="top:14px;background:#b8b8b8;"></div><div class="legrow" style="top:14px;">DHPG</div>
  <div class="sw" style="top:35px;background:#e30000;"></div><div class="legrow" style="top:35px;">no DHPG</div>
  <div class="sw" style="top:58px;background:#4f6ff2;"></div><div class="legrow" style="top:58px;">DHPG after the 1<sup>st</sup> pulse</div>
</div>
</body></html>
